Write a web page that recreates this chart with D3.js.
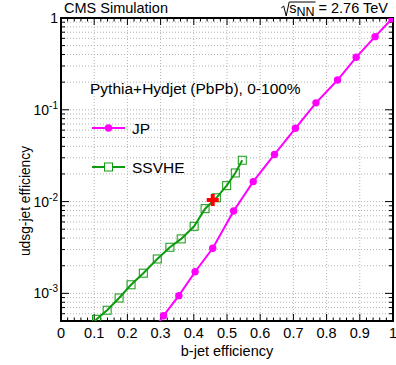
<!DOCTYPE html>
<html>
<head>
<meta charset="utf-8">
<script src="https://cdn.jsdelivr.net/npm/d3@7"></script>
<style>
  body { margin: 0; background: #fff; }
  text { font-family: "Liberation Sans", Arial, sans-serif; }
</style>
</head>
<body>
<div id="chart" style="width:396px;height:365px"></div>
<script>
// b-jet efficiency vs udsg mistag rate
const jpEff   = [0.265, 0.309, 0.355, 0.404, 0.457, 0.520, 0.579, 0.643, 0.706, 0.768, 0.833, 0.889, 0.946, 0.997];
const jpMis   = [0.00034, 0.000571, 0.000944, 0.00172, 0.0031, 0.0079, 0.0165, 0.0326, 0.0629, 0.119, 0.211, 0.373, 0.626, 0.98];
const ssvEff  = [0.09, 0.107, 0.139, 0.175, 0.211, 0.248, 0.290, 0.328, 0.362, 0.401, 0.434, 0.468, 0.499, 0.525, 0.546];
const ssvMis  = [0.00043, 0.000522, 0.000655, 0.00089, 0.00124, 0.00166, 0.00237, 0.00318, 0.00392, 0.00538, 0.00837, 0.0110, 0.0149, 0.0205, 0.0282];
const workingPoint = {eff: 0.457, mis: 0.0104};
const xTicks = [0, 0.1, 0.2, 0.3, 0.4, 0.5, 0.6, 0.7, 0.8, 0.9, 1];
const yDecades = [1e-3, 1e-2, 1e-1, 1];
const yLabels = [["10", "-3"], ["10", "-2"], ["10", "-1"], ["1", ""]];

const svg = d3.select("#chart").append("svg")
    .attr("width", 396).attr("height", 365);

const margin = {top: 18, right: 3, bottom: 44, left: 61},
      width = 396 - margin.left - margin.right,
      height = 365 - margin.top - margin.bottom;

const g = svg.append("g")
    .attr("transform", "translate(" + margin.left + "," + margin.top + ")");

const x = d3.scaleLinear().domain([0, 1]).range([0, width]);
const y = d3.scaleLog().domain([5e-4, 1]).range([height, 0]);

// minor values on log axis
const yMinor = [];
[1e-4, 1e-3, 1e-2, 1e-1].forEach(d => {
    for (let k = 1; k <= 9; k++) {
        const v = d * k;
        if (v >= 5e-4 && v <= 1) yMinor.push(v);
    }
});
const xMinor = d3.range(0, 1.0001, 0.02);

// grid
const grid = g.append("g").attr("stroke", "#b4b4b4").attr("stroke-dasharray", "1,2").attr("stroke-width", 1);
xTicks.slice(1, -1).forEach(v => {
    grid.append("line").attr("x1", x(v)).attr("x2", x(v)).attr("y1", 0).attr("y2", height);
});
yMinor.filter(v => v < 1).forEach(v => {
    grid.append("line").attr("x1", 0).attr("x2", width).attr("y1", y(v)).attr("y2", y(v));
});

// ticks (inward, all four sides)
const ticks = g.append("g").attr("stroke", "#000").attr("stroke-width", 1);
xMinor.forEach((v, i) => {
    const len = (i % 5 === 0) ? 7 : 3.5;
    ticks.append("line").attr("x1", x(v)).attr("x2", x(v)).attr("y1", height).attr("y2", height - len);
    ticks.append("line").attr("x1", x(v)).attr("x2", x(v)).attr("y1", 0).attr("y2", len);
});
yMinor.forEach(v => {
    const major = yDecades.some(d => Math.abs(d - v) / d < 1e-6);
    const len = major ? 8 : 4;
    ticks.append("line").attr("x1", 0).attr("x2", len).attr("y1", y(v)).attr("y2", y(v));
    ticks.append("line").attr("x1", width).attr("x2", width - len).attr("y1", y(v)).attr("y2", y(v));
});

// frame
g.append("rect").attr("width", width).attr("height", height)
    .attr("fill", "none").attr("stroke", "#000").attr("stroke-width", 2);

// x labels
g.append("g").selectAll("text").data(xTicks).join("text")
    .attr("x", d => x(d)).attr("y", height + 17)
    .attr("text-anchor", "middle").attr("font-size", 14.5)
    .text(d => d === 0 ? "0" : d === 1 ? "1" : d3.format(".1f")(d));

// y labels
const yl = g.append("g").selectAll("text").data(yDecades).join("text")
    .attr("x", -3).attr("y", d => y(d) + 5)
    .attr("text-anchor", "end").attr("font-size", 14);
yl.append("tspan").text((d, i) => yLabels[i][0]);
yl.append("tspan").attr("font-size", 10).attr("dy", -6).text((d, i) => yLabels[i][1]);

// axis titles
svg.append("text").attr("x", margin.left + width / 2).attr("y", 356)
    .attr("text-anchor", "middle").attr("font-size", 14.5).text("b-jet efficiency");
svg.append("text").attr("transform", "translate(30,201) rotate(-90)")
    .attr("text-anchor", "middle").attr("font-size", 13.8).text("udsg-jet efficiency");

// data
svg.append("clipPath").attr("id", "clip").append("rect")
    .attr("x", margin.left).attr("y", margin.top).attr("width", width).attr("height", height);
const dg = svg.append("g").attr("clip-path", "url(#clip)")
    .append("g").attr("transform", "translate(" + margin.left + "," + margin.top + ")");

const line = d3.line().x(d => x(d[0])).y(d => y(d[1]));
const jp = jpEff.map((e, i) => [e, jpMis[i]]);
const ssv = ssvEff.map((e, i) => [e, ssvMis[i]]);
const green = "#109a10", magenta = "#ff00ff";

dg.append("path").datum(ssv).attr("d", line)
    .attr("fill", "none").attr("stroke", green).attr("stroke-width", 2);
dg.selectAll(".sq").data(ssv).join("rect").attr("class", "sq")
    .attr("x", d => x(d[0]) - 4).attr("y", d => y(d[1]) - 4)
    .attr("width", 8).attr("height", 8)
    .attr("fill", "none").attr("stroke", green).attr("stroke-width", 1);

dg.append("path").datum(jp).attr("d", line)
    .attr("fill", "none").attr("stroke", magenta).attr("stroke-width", 2);
dg.selectAll(".dot").data(jp).join("circle").attr("class", "dot")
    .attr("cx", d => x(d[0])).attr("cy", d => y(d[1])).attr("r", 3.7)
    .attr("fill", magenta);

// working point cross
const cx = x(workingPoint.eff), cy = y(workingPoint.mis);
dg.append("path")
    .attr("d", `M${cx - 6},${cy - 2}h4v-4h4v4h4v4h-4v4h-4v-4h-4z`)
    .attr("fill", "#ff0000");

// legend
svg.append("text").attr("x", 90).attr("y", 94).attr("font-size", 15.5)
    .text("Pythia+Hydjet (PbPb), 0-100%");
svg.append("line").attr("x1", 92).attr("x2", 125).attr("y1", 128).attr("y2", 128)
    .attr("stroke", magenta).attr("stroke-width", 2);
svg.append("circle").attr("cx", 108.5).attr("cy", 128).attr("r", 3.7).attr("fill", magenta);
svg.append("text").attr("x", 132).attr("y", 134).attr("font-size", 15.5).text("JP");
svg.append("line").attr("x1", 92).attr("x2", 125).attr("y1", 167).attr("y2", 167)
    .attr("stroke", green).attr("stroke-width", 2);
svg.append("rect").attr("x", 104.5).attr("y", 163).attr("width", 8).attr("height", 8)
    .attr("fill", "#fff").attr("stroke", green).attr("stroke-width", 1);
svg.append("text").attr("x", 132).attr("y", 173).attr("font-size", 15.5).text("SSVHE");

// header
svg.append("text").attr("x", 64).attr("y", 13).attr("font-size", 14.5).text("CMS Simulation");
const hdr = svg.append("text").attr("x", 388).attr("y", 13).attr("font-size", 14.5)
    .attr("text-anchor", "end");
hdr.append("tspan").text("s");
hdr.append("tspan").attr("font-size", 12.5).attr("dy", 3).text("NN");
hdr.append("tspan").attr("dy", -3).text(" = 2.76 TeV");
const total = hdr.node().getComputedTextLength();
const rootW = hdr.node().getSubStringLength(0, 3);
const x0 = 388 - total;
svg.append("path")
    .attr("d", `M${x0 - 8},8 L${x0 - 5.5},6 L${x0 - 3},16 L${x0},2 L${x0 + rootW + 1},2`)
    .attr("fill", "none").attr("stroke", "#000").attr("stroke-width", 1);
</script>
</body>
</html>
